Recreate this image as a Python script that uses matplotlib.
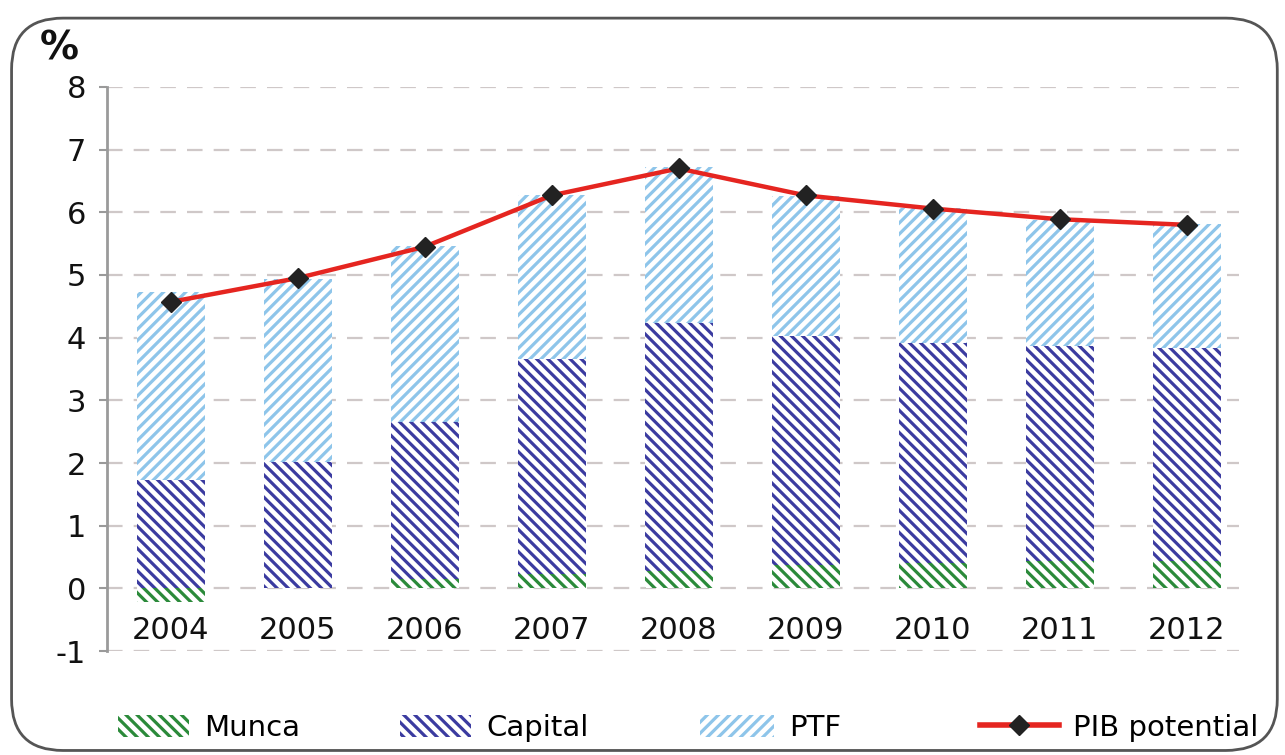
import matplotlib
matplotlib.use("Agg")
import matplotlib.pyplot as plt
from matplotlib.patches import FancyBboxPatch, Patch
from matplotlib.lines import Line2D
import numpy as np

years = ["2004", "2005", "2006", "2007", "2008", "2009", "2010", "2011", "2012"]
munca = [-0.22, 0.0, 0.15, 0.23, 0.28, 0.37, 0.40, 0.44, 0.44]
capital = [1.73, 2.01, 2.50, 3.43, 3.95, 3.65, 3.51, 3.42, 3.39]
ptf = [3.00, 2.93, 2.81, 2.62, 2.49, 2.24, 2.16, 2.02, 1.99]
pib = [4.57, 4.95, 5.45, 6.27, 6.70, 6.27, 6.06, 5.89, 5.80]

c_munca = "#2b8a3a"
c_capital = "#3b3ba0"
c_ptf = "#8ec5ea"
c_line = "#e52520"

FONT = ["DejaVu Sans"]
plt.rcParams["font.family"] = FONT
plt.rcParams["hatch.linewidth"] = 2.3

H_BACK = "\\" * 3
H_FWD = "/" * 3

W, H = 1285, 755
fig = plt.figure(figsize=(W / 100, H / 100), dpi=100)
ax = fig.add_axes([0.0833, 0.1377, 0.8895, 0.7471])

x = np.arange(len(years))
w = 0.535
munca_a = np.array(munca)
cap_base = np.where(munca_a > 0, munca_a, 0.0)
cap_top = cap_base + np.array(capital)

ax.bar(x, munca, w, color="white", edgecolor=c_munca, hatch=H_BACK, linewidth=0, zorder=2)
ax.bar(x, capital, w, bottom=cap_base, color="white", edgecolor=c_capital, hatch=H_BACK, linewidth=0, zorder=2)
ax.bar(x, ptf, w, bottom=cap_top, color="white", edgecolor=c_ptf, hatch=H_FWD, linewidth=0, zorder=2)
ax.plot(x, pib, color=c_line, lw=3.2, marker="D", ms=10, mfc="#222222", mec="#222222", zorder=3)

ax.set_xlim(-0.5, 8.5)
ax.set_ylim(-1, 8)
ax.set_yticks(range(-1, 9))
ax.set_yticklabels([str(v) for v in range(-1, 9)], fontsize=22, color="#111111")
ax.set_xticks([])
for i, yl in enumerate(years):
    ax.text(i, -0.67, yl, ha="center", va="center", fontsize=22, color="#111111")

for v in range(-1, 9):
    ax.axhline(v, color="#cfc8c8", lw=1.6, ls=(0, (7, 5)), zorder=1, xmax=0.99)

for s in ["top", "right", "bottom"]:
    ax.spines[s].set_visible(False)
ax.spines["left"].set_color("#9a9a9a")
ax.spines["left"].set_linewidth(2)
ax.tick_params(axis="y", length=6, width=1.5, color="#9a9a9a", pad=9)

fig.text(59 / W, 1 - 48 / H, "%", fontsize=28, fontweight="bold", color="#111111",
         ha="center", va="center")

frame = FancyBboxPatch((0.009, 0.006), 0.985, 0.97, transform=fig.transFigure,
                       boxstyle="round,pad=0,rounding_size=0.04",
                       fill=False, edgecolor="#555555", lw=2, mutation_aspect=1.7)
fig.patches.append(frame)

handles = [
    Patch(facecolor="white", edgecolor=c_munca, hatch=H_BACK, linewidth=0),
    Patch(facecolor="white", edgecolor=c_capital, hatch=H_BACK, linewidth=0),
    Patch(facecolor="white", edgecolor=c_ptf, hatch=H_FWD, linewidth=0),
    Line2D([], [], color=c_line, lw=4, marker="D", ms=10, mfc="#222222", mec="#222222"),
]
labels = ["Munca", "Capital", "PTF", "PIB potential"]
starts = [118, 400, 700, 980]
hlens = [2.45, 2.45, 2.55, 2.7]
for hd, lb, sx, hl in zip(handles, labels, starts, hlens):
    fig.legend([hd], [lb], loc="center left", bbox_to_anchor=(sx / W, 1 - 728 / H),
               frameon=False, fontsize=21, handlelength=hl, handleheight=0.8,
               handletextpad=0.5, borderpad=0, borderaxespad=0)

fig.savefig("out.png", dpi=100)
